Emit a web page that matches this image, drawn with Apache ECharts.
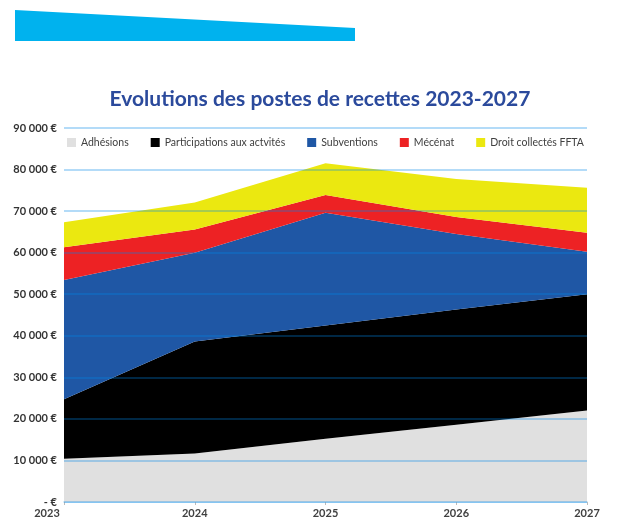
<!DOCTYPE html>
<html>
<head>
<meta charset="utf-8">
<script src="https://cdn.jsdelivr.net/npm/echarts@6/dist/echarts.min.js"></script>
<style>
  html, body { margin: 0; padding: 0; background: #fff; }
  #chart { width: 640px; height: 521px; }
</style>
</head>
<body>
<div id="chart"></div>
<script>
// years and the amount each revenue line brings in (not cumulative)
const years = ['2023', '2024', '2025', '2026', '2027'];
const adhesions = [10400, 11700, 15200, 18600, 22000];
const participations = [14300, 26900, 27300, 27700, 28000];
const subventions = [28700, 21400, 27100, 18200, 10200];
const mecenat = [7900, 5600, 4300, 4100, 4600];
const droits = [6000, 6500, 7600, 9100, 10800];

const seriesNames = ['Adhésions', 'Participations aux actvités', 'Subventions', 'Mécénat', 'Droit collectés FFTA'];
const seriesValues = [adhesions, participations, subventions, mecenat, droits];
const colors = ['#e0e0e0', '#000000', '#1f57a5', '#ed2224', '#ebe810'];

const chart = echarts.init(document.getElementById('chart'));

const fmtEuro = (v) => {
  if (v === 0) return '- €';
  return String(v).replace(/\B(?=(\d{3})+(?!\d))/g, ' ') + ' €';
};

const option = {
  animation: false,
  color: colors,
  title: {
    text: 'Evolutions des postes de recettes 2023-2027',
    left: 'center',
    top: 84,
    textStyle: {
      color: '#2b4a9c',
      fontFamily: 'Lato',
      fontWeight: 'bold',
      fontSize: 21,
    },
  },
  graphic: [
    {
      // blue banner in the top left corner
      type: 'polygon',
      shape: { points: [[15, 10], [355, 28], [355, 41], [15, 41]] },
      style: { fill: '#00b2ee' },
    },
  ],
  legend: {
    top: 132,
    left: 62,
    itemWidth: 9,
    itemHeight: 9,
    itemGap: 22,
    icon: 'rect',
    textStyle: {
      color: '#404040',
      fontFamily: 'Lato',
      fontSize: 10.5,
    },
    data: seriesNames,
  },
  grid: {
    left: 64,
    right: 53,
    top: 128,
    bottom: 19,
  },
  xAxis: {
    type: 'category',
    boundaryGap: false,
    data: years,
    axisLine: { lineStyle: { color: '#a9d8f5', width: 1.5 } },
    axisTick: { show: true, length: 3, lineStyle: { color: '#bbbbbb' } },
    axisLabel: {
      color: '#404040',
      fontFamily: 'Lato',
      fontWeight: 'bold',
      fontSize: 11,
      margin: 6,
      formatter: (v, i) => (i === 0 ? '{first|' + v + '}' : v),
      rich: {
        first: {
          color: '#404040',
          fontFamily: 'Lato',
          fontWeight: 'bold',
          fontSize: 11,
          padding: [0, 34, 0, 0],
        },
      },
    },
  },
  yAxis: {
    type: 'value',
    min: 0,
    max: 90000,
    interval: 10000,
    z: 5,
    axisLine: { show: false },
    axisTick: { show: false },
    splitLine: { lineStyle: { color: 'rgba(0, 135, 230, 0.4)', width: 1.5 } },
    axisLabel: {
      color: '#333333',
      fontFamily: 'Lato',
      fontWeight: 'bold',
      fontSize: 11,
      margin: 7,
      formatter: fmtEuro,
    },
  },
  series: seriesNames.map((name, i) => ({
    name: name,
    type: 'line',
    stack: 'total',
    data: seriesValues[i],
    symbol: 'none',
    lineStyle: { width: 0 },
    areaStyle: { color: colors[i], opacity: 1 },
  })),
};

chart.setOption(option);
</script>
</body>
</html>
